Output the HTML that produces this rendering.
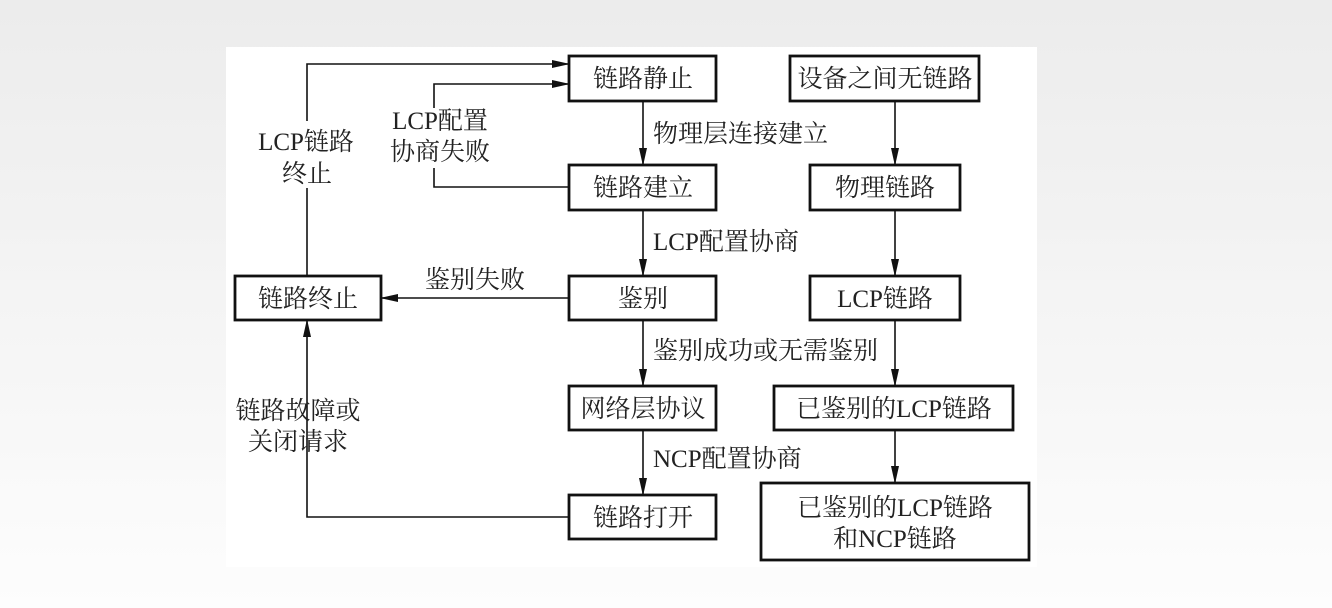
<!DOCTYPE html>
<html><head><meta charset="utf-8"><style>
html,body{margin:0;padding:0}
body{width:1332px;height:608px;background:linear-gradient(#ececec,#f6f6f6 60%,#fdfdfd);overflow:hidden}
svg{position:absolute;left:0;top:0}
text{font-family:"Liberation Serif","Noto Serif CJK SC",serif;font-size:25px;fill:#222}
</style></head><body>
<svg width="1332" height="608" viewBox="0 0 1332 608">
<defs><marker id="a" markerWidth="18" markerHeight="10" refX="17" refY="5" orient="auto" markerUnits="userSpaceOnUse"><path d="M0,1 L18,5 L0,9 Z" fill="#111"/></marker></defs>
<rect x="226" y="47" width="811" height="520" fill="#fff"/>
<g fill="none" stroke="#111" stroke-width="2.8">
<rect x="569" y="56" width="147" height="45"/>
<rect x="569" y="165" width="147" height="45"/>
<rect x="569" y="276" width="147" height="44"/>
<rect x="569" y="386" width="147" height="44"/>
<rect x="569" y="495" width="147" height="44"/>
<rect x="235" y="276" width="146" height="44"/>
<rect x="790" y="56" width="189" height="45"/>
<rect x="810" y="165" width="150" height="45"/>
<rect x="810" y="276" width="150" height="44"/>
<rect x="774" y="386" width="239" height="44"/>
<rect x="761" y="483" width="268" height="77"/>
</g>
<g fill="none" stroke="#111" stroke-width="1.6" marker-end="url(#a)">
<path d="M643,101 V165"/><path d="M643,210 V276"/><path d="M643,320 V386"/><path d="M643,430 V495"/>
<path d="M895,101 V165"/><path d="M895,210 V276"/><path d="M895,320 V386"/><path d="M895,430 V483"/>
<path d="M569,298 H381"/>
<path d="M307,121 V64 H569"/>
<path d="M434,108 V84 H569"/>
<path d="M569,517 H307 V320"/>
</g>
<g fill="none" stroke="#111" stroke-width="1.6">
<path d="M307,276 V188"/><path d="M569,187 H434 V168"/>
</g>
<g text-anchor="middle">
<text x="643" y="87">链路静止</text>
<text x="643" y="196">链路建立</text>
<text x="643" y="307">鉴别</text>
<text x="643" y="417">网络层协议</text>
<text x="643" y="526">链路打开</text>
<text x="308" y="307">链路终止</text>
<text x="885" y="87">设备之间无链路</text>
<text x="885" y="196">物理链路</text>
<text x="885" y="307">LCP链路</text>
<text x="894" y="417">已鉴别的LCP链路</text>
<text x="895" y="516">已鉴别的LCP链路</text>
<text x="895" y="547">和NCP链路</text>
<text x="306" y="150">LCP链路</text>
<text x="307" y="182">终止</text>
<text x="440" y="129">LCP配置</text>
<text x="440" y="160">协商失败</text>
<text x="475" y="288">鉴别失败</text>
<text x="298" y="419">链路故障或</text>
<text x="298" y="450">关闭请求</text>
</g>
<text x="653" y="142">物理层连接建立</text>
<text x="653" y="250">LCP配置协商</text>
<text x="653" y="359">鉴别成功或无需鉴别</text>
<text x="653" y="467">NCP配置协商</text>
</svg>
</body></html>
